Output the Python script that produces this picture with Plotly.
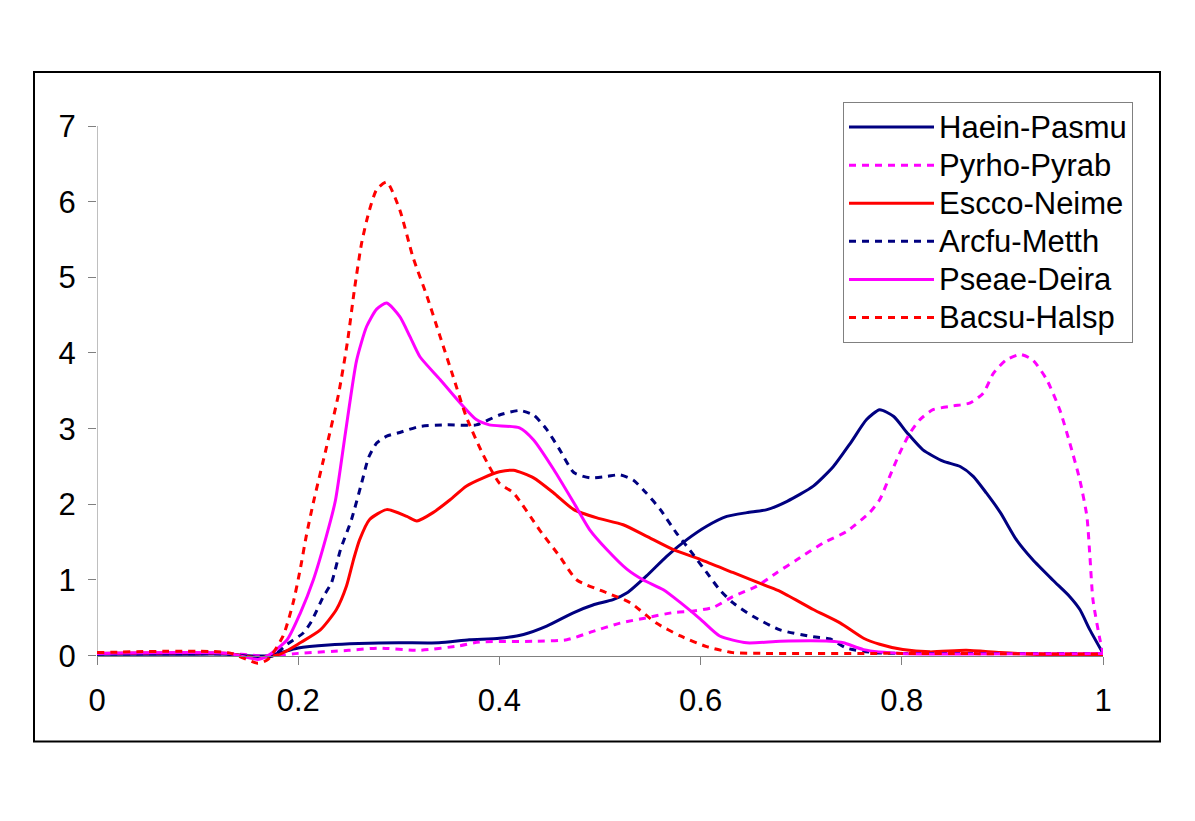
import plotly.graph_objects as go

# ---------------- data ----------------
haein_x = [0, 0.1, 0.13, 0.15, 0.17, 0.2, 0.23, 0.26, 0.3, 0.34, 0.37, 0.4, 0.424, 0.447, 0.474, 0.493, 0.513, 0.527,
           0.546, 0.566, 0.586, 0.606, 0.626, 0.646, 0.666, 0.686, 0.712, 0.732, 0.749, 0.765, 0.778, 0.792, 0.805,
           0.821, 0.841, 0.858, 0.871, 0.884, 0.898, 0.914, 0.930, 0.950, 0.967, 0.977, 0.987, 1.0]
haein_y = [0.02, 0.02, 0.02, 0.0, 0.0, 0.1, 0.14, 0.16, 0.17, 0.17, 0.21, 0.23, 0.28, 0.39, 0.57, 0.67, 0.74, 0.83,
           1.05, 1.31, 1.53, 1.71, 1.84, 1.89, 1.93, 2.04, 2.24, 2.50, 2.81, 3.12, 3.25, 3.16, 2.95,
           2.72, 2.57, 2.50, 2.37, 2.15, 1.89, 1.53, 1.27, 1.0, 0.78, 0.61, 0.34, 0.03]

pyrho_x = [0, 0.13, 0.16, 0.18, 0.2, 0.25, 0.28, 0.32, 0.36, 0.38, 0.434, 0.467, 0.493, 0.52, 0.546, 0.573, 0.593,
           0.613, 0.632, 0.656, 0.676, 0.696, 0.722, 0.745, 0.768, 0.778, 0.788, 0.798, 0.808, 0.818, 0.831, 0.851,
           0.868, 0.881, 0.891, 0.904, 0.918, 0.930, 0.944, 0.957, 0.967, 0.977, 0.984, 0.987, 0.990, 0.997, 1.0]
pyrho_y = [0.03, 0.03, 0.0, 0.0, 0.03, 0.07, 0.1, 0.07, 0.13, 0.18, 0.19, 0.21, 0.32, 0.43, 0.50, 0.57, 0.59,
           0.64, 0.78, 0.92, 1.10, 1.27, 1.49, 1.64, 1.89, 2.06, 2.37, 2.68, 2.94, 3.12, 3.25, 3.30,
           3.34, 3.47, 3.73, 3.91, 3.98, 3.91, 3.65, 3.25, 2.81, 2.32, 1.84, 1.31, 0.74, 0.21, 0.04]

escco_x = [0, 0.13, 0.16, 0.182, 0.202, 0.222, 0.238, 0.248, 0.255, 0.261, 0.271, 0.288, 0.308, 0.318, 0.334, 0.351,
           0.367, 0.384, 0.40, 0.414, 0.434, 0.454, 0.474, 0.497, 0.523, 0.546, 0.573, 0.60, 0.632, 0.666, 0.679,
           0.712, 0.739, 0.762, 0.778, 0.801, 0.828, 0.864, 0.898, 0.95, 1.0]
escco_y = [0.03, 0.03, -0.03, 0.02, 0.17, 0.34, 0.61, 0.92, 1.27, 1.53, 1.80, 1.93, 1.84, 1.78, 1.89, 2.06,
           2.24, 2.35, 2.43, 2.45, 2.35, 2.15, 1.93, 1.82, 1.73, 1.58, 1.40, 1.27, 1.10, 0.92, 0.85,
           0.61, 0.43, 0.23, 0.15, 0.08, 0.05, 0.07, 0.04, 0.01, 0.01]

arcfu_x = [0, 0.13, 0.16, 0.175, 0.189, 0.205, 0.213, 0.225, 0.233, 0.242, 0.253, 0.263, 0.270, 0.278, 0.288, 0.301,
           0.321, 0.348, 0.377, 0.40, 0.42, 0.434, 0.447, 0.46, 0.474, 0.49, 0.507, 0.52, 0.533, 0.546, 0.56, 0.576,
           0.589, 0.606, 0.619, 0.632, 0.652, 0.679, 0.712, 0.729, 0.745, 0.772, 0.8, 1.0]
arcfu_y = [0.02, 0.02, -0.02, 0.0, 0.15, 0.30, 0.45, 0.78, 0.96, 1.40, 1.80, 2.28, 2.62, 2.81, 2.90, 2.95,
           3.03, 3.05, 3.05, 3.18, 3.24, 3.18, 2.99, 2.72, 2.42, 2.35, 2.37, 2.39, 2.32, 2.15, 1.93, 1.62,
           1.40, 1.10, 0.87, 0.70, 0.52, 0.34, 0.25, 0.22, 0.10, 0.04, 0.03, 0.03]

pseae_x = [0, 0.13, 0.16, 0.17, 0.189, 0.202, 0.215, 0.228, 0.237, 0.247, 0.258, 0.268, 0.278, 0.288, 0.301, 0.311,
           0.321, 0.341, 0.361, 0.377, 0.39, 0.42, 0.434, 0.454, 0.474, 0.49, 0.507, 0.527, 0.543, 0.563, 0.58, 0.6,
           0.619, 0.646, 0.679, 0.729, 0.742, 0.762, 0.8, 1.0]
pseae_y = [0.03, 0.03, -0.05, 0.0, 0.21, 0.56, 1.0, 1.58, 2.05, 2.95, 3.90, 4.35, 4.58, 4.66, 4.48, 4.22,
           3.95, 3.65, 3.34, 3.12, 3.05, 3.01, 2.85, 2.46, 2.02, 1.66, 1.40, 1.14, 1.0, 0.87, 0.70, 0.48,
           0.26, 0.17, 0.19, 0.19, 0.17, 0.08, 0.03, 0.03]

bacsu_x = [0, 0.13, 0.16, 0.17, 0.185, 0.195, 0.202, 0.208, 0.215, 0.228, 0.240, 0.249, 0.256, 0.263, 0.270, 0.278,
           0.288, 0.301, 0.314, 0.328, 0.341, 0.354, 0.367, 0.384, 0.40, 0.414, 0.44, 0.46, 0.477, 0.507, 0.53,
           0.556, 0.58, 0.606, 0.632, 0.66, 0.8, 1.0]
bacsu_y = [0.04, 0.04, -0.1, -0.05, 0.26, 0.70, 1.14, 1.58, 2.02, 2.75, 3.45, 4.15, 4.85, 5.45, 5.85, 6.16,
           6.26, 5.89, 5.27, 4.75, 4.22, 3.69, 3.16, 2.65, 2.28, 2.15, 1.66, 1.31, 1.0, 0.83, 0.70,
           0.43, 0.26, 0.12, 0.04, 0.03, 0.03, 0.02]

series = [
    ("Haein-Pasmu", haein_x, haein_y, "#000080", "solid"),
    ("Pyrho-Pyrab", pyrho_x, pyrho_y, "#FF00FF", "7px,6px"),
    ("Escco-Neime", escco_x, escco_y, "#FF0000", "solid"),
    ("Arcfu-Metth", arcfu_x, arcfu_y, "#000080", "7px,6px"),
    ("Pseae-Deira", pseae_x, pseae_y, "#FF00FF", "solid"),
    ("Bacsu-Halsp", bacsu_x, bacsu_y, "#FF0000", "7px,6px"),
]

y_ticks = [0, 1, 2, 3, 4, 5, 6, 7]
x_ticks = [0, 0.2, 0.4, 0.6, 0.8, 1]
x_tick_labels = ["0", "0.2", "0.4", "0.6", "0.8", "1"]

YMIN = -0.15
YMAX = 7.0

FONT = "Liberation Sans, Arial, sans-serif"
FS = 31
LEG_FS = 27  # controls legend row spacing; text itself drawn at FS

# page offset (html body margin)
OX, OY = 8, 8

fig = go.Figure()
for name, xs, ys, color, dash in series:
    fig.add_trace(go.Scatter(
        x=xs, y=ys, name='<span style="font-size:%dpx">%s</span>' % (FS, name), mode="lines",
        line=dict(color=color, width=3, dash=dash, shape="spline", smoothing=0.6),
    ))

# target page pixels: x 97..1103 for 0..1, y=0 at 656, y=7 at 126
ppu = (656 - 126) / 7.0
W, H = 1195, 821
left_px, right_px = 97 - OX, 1103 - OX
top_px = 126 - OY
bottom_px = 656 - OY + (0 - YMIN) * ppu
ml, mr, mt = left_px, W - right_px, top_px
mb = H - bottom_px
pw = right_px - left_px
ph = bottom_px - top_px

def px_to_paper_x(px):
    return (px - OX - ml) / pw

def px_to_paper_y(py):
    return (bottom_px - (py - OY)) / ph

fig.update_layout(
    width=W, height=H,
    margin=dict(l=ml, r=mr, t=mt, b=mb, pad=0),
    paper_bgcolor="white", plot_bgcolor="white",
    font=dict(family=FONT, size=FS, color="black"),
    showlegend=True,
    legend=dict(
        x=px_to_paper_x(843), y=px_to_paper_y(102), xanchor="left", yanchor="top",
        bgcolor="white", bordercolor="#808080", borderwidth=1,
        font=dict(family=FONT, size=LEG_FS, color="black"),
        itemwidth=85, tracegroupgap=0,
    ),
    xaxis=dict(
        range=[0, 1], tickvals=x_ticks, ticktext=x_tick_labels,
        showgrid=False, zeroline=False, showline=True, linecolor="#808080", linewidth=1,
        ticks="outside", ticklen=8, tickcolor="#808080",
        anchor="free", position=(0 - YMIN) / (YMAX - YMIN),
        tickfont=dict(family=FONT, size=FS, color="black"),
        ticklabelstandoff=9,
    ),
    yaxis=dict(
        range=[YMIN, YMAX], tickvals=y_ticks,
        showgrid=False, zeroline=False, showline=False,
        ticks="outside", ticklen=8, tickcolor="#808080",
        tickfont=dict(family=FONT, size=FS, color="black"),
        ticklabelstandoff=6,
    ),
    shapes=[
        dict(type="line", xref="x", yref="y", x0=0, x1=0, y0=0, y1=7,
             line=dict(color="#808080", width=1), layer="below"),
        dict(type="rect", xref="paper", yref="paper",
             x0=px_to_paper_x(34), x1=px_to_paper_x(1160),
             y0=px_to_paper_y(742), y1=px_to_paper_y(72),
             line=dict(color="black", width=2), fillcolor="rgba(0,0,0,0)"),
    ],
)

fig.write_html("out.html")
